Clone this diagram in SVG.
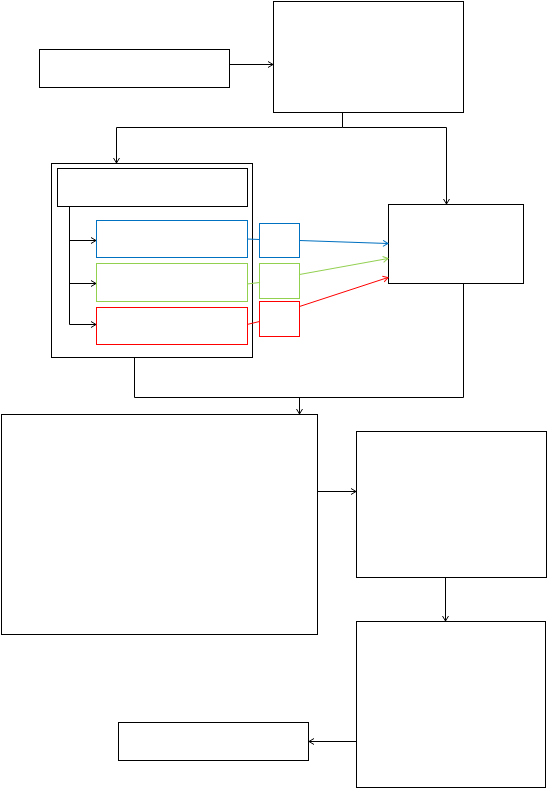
<svg xmlns="http://www.w3.org/2000/svg" width="547" height="789" viewBox="0 0 547 789">
<style>
.n{fill:#fff;stroke:#000;stroke-width:1}
.c{fill:none;stroke:#000;stroke-width:1}
.b{stroke:#0070C0}
.g{stroke:#92D050}
.r{stroke:#FF0000}
</style>
<defs>
<marker id="ak" markerWidth="8" markerHeight="8" refX="6" refY="4" orient="auto" markerUnits="userSpaceOnUse"><path d="M1,1 L6,4 L1,7" fill="none" stroke="#000" stroke-width="1"/></marker>
<marker id="ab" markerWidth="8" markerHeight="8" refX="6" refY="4" orient="auto" markerUnits="userSpaceOnUse"><path d="M1,1 L6,4 L1,7" fill="none" stroke="#0070C0" stroke-width="1"/></marker>
<marker id="ag" markerWidth="8" markerHeight="8" refX="6" refY="4" orient="auto" markerUnits="userSpaceOnUse"><path d="M1,1 L6,4 L1,7" fill="none" stroke="#92D050" stroke-width="1"/></marker>
<marker id="ar" markerWidth="8" markerHeight="8" refX="6" refY="4" orient="auto" markerUnits="userSpaceOnUse"><path d="M1,1 L6,4 L1,7" fill="none" stroke="#FF0000" stroke-width="1"/></marker>
</defs>
<rect width="547" height="789" fill="#fff"/>
<g id="nodes">
<g id="nA"><rect class="n" x="39.5" y="49.5" width="190" height="38"/></g>
<g id="nB"><rect class="n" x="273.5" y="1.5" width="190" height="111"/></g>
<g id="nC"><rect class="n" x="51.5" y="163.5" width="201" height="194"/></g>
<g id="nC1"><rect class="n" x="57.5" y="168.5" width="190" height="38"/></g>
<g id="nC2"><rect class="n b" x="96.5" y="220.5" width="151" height="37"/></g>
<g id="nC3"><rect class="n g" x="96.5" y="263.5" width="151" height="38"/></g>
<g id="nC4"><rect class="n r" x="96.5" y="307.5" width="151" height="37"/></g>
<g id="s1"><rect class="n b" x="259.5" y="223.5" width="40" height="34"/></g>
<g id="s2"><rect class="n g" x="259.5" y="263.5" width="40" height="35"/></g>
<g id="s3"><rect class="n r" x="259.5" y="301.5" width="40" height="35"/></g>
<g id="nD"><rect class="n" x="388.5" y="204.5" width="135" height="79"/></g>
<g id="nE"><rect class="n" x="1.5" y="414.5" width="316" height="220"/></g>
<g id="nF"><rect class="n" x="356.5" y="431.5" width="190" height="146"/></g>
<g id="nG"><rect class="n" x="356.5" y="621.5" width="189" height="166"/></g>
<g id="nH"><rect class="n" x="118.5" y="722.5" width="190" height="38"/></g>
</g>
<g id="connectors">
<path class="c" d="M229.5,64.5 H273" marker-end="url(#ak)"/>
<path class="c" d="M342.5,112.5 V127.5 H116.5 V163" marker-end="url(#ak)"/>
<path class="c" d="M342.5,127.5 H446.5 V204" marker-end="url(#ak)"/>
<path class="c" d="M69.5,206.5 V324.5"/>
<path class="c" d="M69.5,240.5 H96" marker-end="url(#ak)"/>
<path class="c" d="M69.5,283.5 H96" marker-end="url(#ak)"/>
<path class="c" d="M69.5,324.5 H96" marker-end="url(#ak)"/>
<path class="c b" d="M247,239 L259.5,239.5"/>
<path class="c g" d="M247,284 L259.5,282.5"/>
<path class="c r" d="M247,324.5 L259.5,321.5"/>
<path class="c b" d="M299.5,240.5 L388,243.5" marker-end="url(#ab)"/>
<path class="c g" d="M299.5,274.5 L388,258.5" marker-end="url(#ag)"/>
<path class="c r" d="M299.5,306.5 L388,277.5" marker-end="url(#ar)"/>
<path class="c" d="M134.5,357.5 V397.5 H463.5 V283.5"/>
<path class="c" d="M299.5,397.5 V414" marker-end="url(#ak)"/>
<path class="c" d="M317.5,491.5 H356" marker-end="url(#ak)"/>
<path class="c" d="M445.5,577.5 V621" marker-end="url(#ak)"/>
<path class="c" d="M356.5,741.5 H309" marker-end="url(#ak)"/>
</g>
</svg>
